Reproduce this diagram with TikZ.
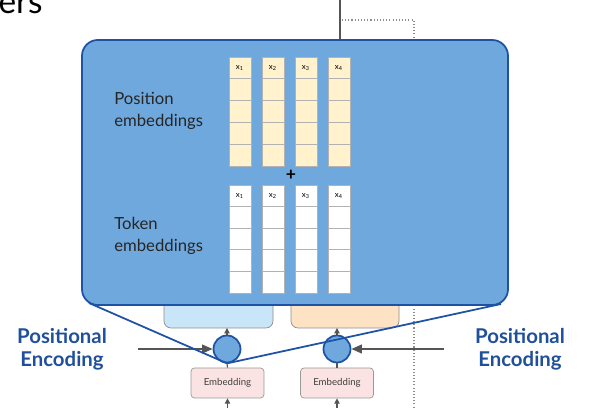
\documentclass[tikz,border=0pt]{standalone}
\usepackage{fontspec}
\setmainfont{Lato}
\usepackage{xcolor}
\usetikzlibrary{arrows.meta}

\definecolor{boxblue}{RGB}{111,168,221}
\definecolor{edgeblue}{RGB}{30,82,165}
\definecolor{textblue}{RGB}{32,80,155}
\definecolor{posyellow}{RGB}{255,242,204}
\definecolor{lightblue}{RGB}{201,230,248}
\definecolor{lightorange}{RGB}{253,227,196}
\definecolor{embpink}{RGB}{251,227,227}
\definecolor{arrowgray}{RGB}{85,85,85}

\tikzset{
  cellbox/.style={draw=black!30, line width=0.5pt},
  xlab/.style={inner sep=0pt, font=\fontsize{4.5}{5}\selectfont},
  sidelabel/.style={align=left, anchor=west, inner sep=0pt, font=\fontsize{9.5}{12.5}\selectfont, text=black!85},
  peblabel/.style={align=center, text=textblue, font=\fontsize{11.6}{13.2}\selectfont\bfseries},
  embbox/.style={draw=black!40, fill=embpink, rounded corners=2pt, minimum width=1.46cm,
    minimum height=0.6cm, inner sep=0pt, font=\fontsize{5.5}{6}\selectfont, text=black!75},
  addcirc/.style={circle, draw=edgeblue, fill=boxblue, line width=1pt, minimum size=0.54cm, inner sep=0pt},
  inarrow/.style={draw=arrowgray, line width=1pt, -{Triangle[length=6pt,width=5pt]}},
  zoomline/.style={draw=edgeblue, line width=1pt},
}

\begin{document}
\begin{tikzpicture}[x=0.02cm, y=-0.02cm]
  \path[use as bounding box, fill=white] (0,0) rectangle (593,408);

  % cut-off title
  \node[anchor=base east, inner sep=0pt, font=\fontsize{19}{19}\selectfont] (title) at (43,14) {ers};

  % lines behind the block
  \draw[arrowgray, line width=0.6pt] (340,0) -- (340,40);
  \draw[black!45, line width=0.8pt, dash pattern=on 0.6pt off 1.2pt] (342,20) -- (414,20) -- (414,408);

  % sub-layers under the block
  \draw[black!45, fill=lightblue, rounded corners=4pt] (164,290) rectangle (273,328);
  \draw[black!45, fill=lightorange, rounded corners=4pt] (291,290) rectangle (399,328);

  % zoomed block
  \draw[edgeblue, fill=boxblue, line width=1pt, rounded corners=9pt] (82,40) rectangle (508,305);
  \coordinate (boxbl) at (89,303);
  \coordinate (boxbr) at (501,304);

  \node[sidelabel] (poslab) at (114,111) {Position\\embeddings};
  \node[sidelabel] (toklab) at (114,236) {Token\\embeddings};

  \foreach \xl [count=\i] in {229,262,295,328} {
    \draw[cellbox, fill=posyellow] (\xl,57) rectangle ++(22,109);
    \foreach \k in {1,...,4}
      \draw[cellbox] (\xl,57+21.8*\k) -- ++(22,0);
    \node[xlab] (p\i) at (\xl+11,68) {x\textsubscript{\i}};
    \draw[cellbox, fill=white] (\xl,185) rectangle ++(22,108);
    \foreach \k in {1,...,4}
      \draw[cellbox] (\xl,185+21.6*\k) -- ++(22,0);
    \node[xlab] (t\i) at (\xl+11,196) {x\textsubscript{\i}};
  }
  \node[font=\bfseries\fontsize{10}{10}\selectfont, inner sep=0pt] (plus) at (291,175) {+};

  % positional encoding adders
  \node[addcirc] (lcirc) at (227,349) {};
  \node[addcirc] (rcirc) at (337,349) {};
  \node[embbox] (lemb) at (227.5,383) {Embedding};
  \node[embbox] (remb) at (337,383) {Embedding};

  \draw[arrowgray, line width=0.6pt] (lemb.north) -- (lcirc.south);
  \draw[arrowgray, line width=0.6pt] (remb.north) -- (rcirc.south);
  \draw[arrowgray, line width=0.6pt, -{Triangle[length=3pt,width=3pt]}] (lcirc.north) -- (227,328);
  \draw[arrowgray, line width=0.6pt, -{Triangle[length=3pt,width=3pt]}] (rcirc.north) -- (337,328);
  \coordinate (lin) at (227.5,408);
  \coordinate (rin) at (337,408);
  \draw[arrowgray, line width=0.6pt, -{Triangle[length=3pt,width=3pt]}] (lin) -- (lemb.south);
  \draw[arrowgray, line width=0.6pt, -{Triangle[length=3pt,width=3pt]}] (rin) -- (remb.south);

  \coordinate (lsrc) at (138,349);
  \coordinate (rsrc) at (444,349);
  \draw[inarrow] (lsrc) -- (lcirc.west);
  \draw[inarrow] (rsrc) -- (rcirc.east);

  % zoom lines
  \draw[zoomline] (boxbl) -- (lcirc.south) -- (boxbr);

  \node[peblabel] (lpe) at (62,349) {Positional\\Encoding};
  \node[peblabel] (rpe) at (520,349) {Positional\\Encoding};
\end{tikzpicture}
\end{document}
